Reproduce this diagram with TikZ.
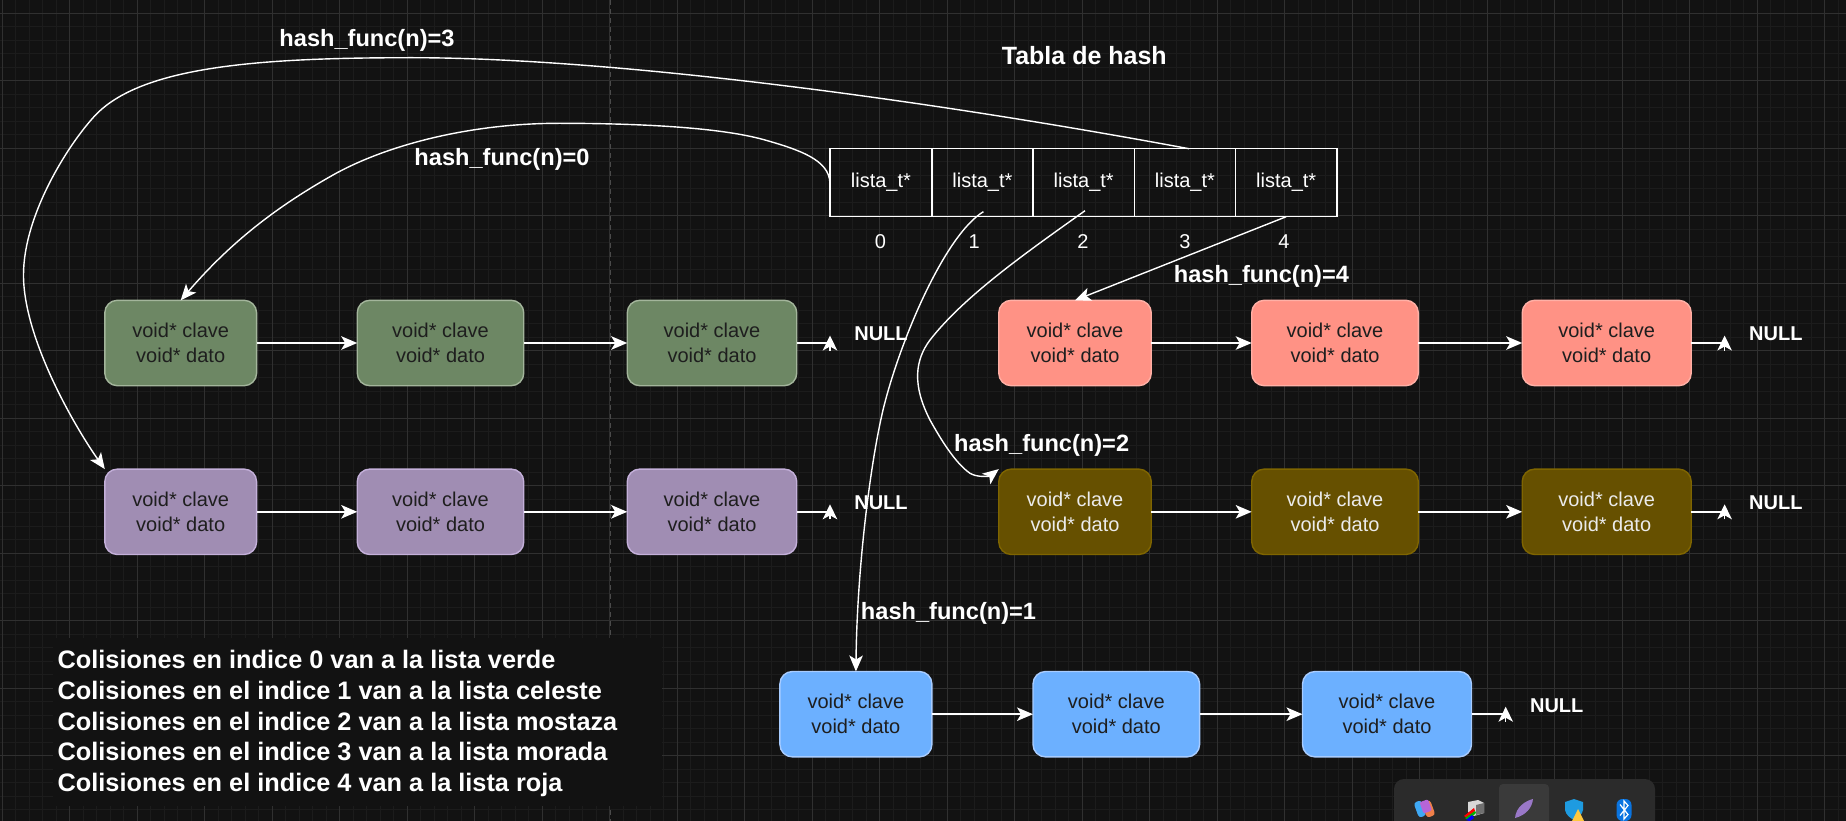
\documentclass[tikz,border=0pt]{standalone}
\usepackage{fontspec}
\setmainfont{Liberation Sans}
\usetikzlibrary{arrows.meta,calc}
\definecolor{bgc}{HTML}{121212}
\definecolor{gridmaj}{HTML}{303030}
\definecolor{gridmin}{HTML}{1C1C1C}
\definecolor{dashc}{HTML}{4A4A4A}
\definecolor{darktxt}{HTML}{1E1E1E}
\definecolor{gFill}{HTML}{6D8764}\definecolor{gLine}{HTML}{A3B59B}
\definecolor{pFill}{HTML}{A08DB3}\definecolor{pLine}{HTML}{C4B0DA}
\definecolor{rFill}{HTML}{FF9285}\definecolor{rLine}{HTML}{FFB0A6}
\definecolor{mFill}{HTML}{665000}\definecolor{mLine}{HTML}{7F6500}
\definecolor{bFill}{HTML}{6CB0FF}\definecolor{bLine}{HTML}{A8CCFF}
\definecolor{mTxt}{HTML}{EBEBEB}
\definecolor{barc}{HTML}{2B2B2B}\definecolor{barh}{HTML}{3A3A3A}
\definecolor{icA}{HTML}{3FA9F5}\definecolor{icB}{HTML}{F0804A}\definecolor{icC}{HTML}{B565D8}
\definecolor{icD}{HTML}{D8D8D8}\definecolor{icE}{HTML}{707070}\definecolor{icF}{HTML}{9A78C8}
\definecolor{icG}{HTML}{1E9BE0}\definecolor{icH}{HTML}{FFC83D}\definecolor{icI}{HTML}{0A74E0}
\tikzset{
  every node/.style={inner sep=0pt,outer sep=0pt},
  tip/.tip={Stealth[length=16pt,width=13.5pt,inset=4pt]},
  uptip/.tip={Stealth[length=15pt,width=14.5pt,inset=4pt]},
  conn/.style={draw=white,line width=1.6pt,-tip},
  curve/.style={draw=white,line width=1.4pt,-tip},
  plainline/.style={draw=white,line width=1.6pt},
  listbox/.style n args={3}{draw=#2,fill=#1,text=#3,line width=1.4pt,rounded corners=12.5pt,
     minimum height=85.4pt,align=center,font=\fontsize{20}{25}\selectfont},
  cellbox/.style={draw=white,line width=1.4pt,minimum height=68pt,text=white,font=\fontsize{20}{24}\selectfont},
  idx/.style={text=white,font=\fontsize{20}{24}\selectfont},
  lbl/.style={text=white,font=\fontsize{23.6}{28}\selectfont\bfseries},
  nulltxt/.style={text=white,font=\fontsize{20}{24}\selectfont\bfseries},
  notes/.style={text=white,align=left,anchor=north west,font=\fontsize{25.3}{30.7}\selectfont\bfseries},
}
\newcommand{\vd}{\raisebox{-1pt}{void* clave}\\\raisebox{-1pt}{void* dato}}
\newcommand{\lt}{\raisebox{-2pt}{lista\_t*}}
\newcommand{\listrow}[9]{%
 \def\rp{#1}\def\rf{#2}\def\rl{#3}\def\rt{#4}\def\ry{#5}%
 \node[listbox={\rf}{\rl}{\rt},minimum width=#7pt] (\rp1) at (#6,\ry) {\vd};
 \node[listbox={\rf}{\rl}{\rt},minimum width=#9pt] (\rp2) at (#8,\ry) {\vd};
 \listrowend}
\newcommand{\listrowend}[3]{%
 \node[listbox={\rf}{\rl}{\rt},minimum width=#2pt] (\rp3) at (#1,\ry) {\vd};
 \draw[conn] (\rp1) -- (\rp2);
 \draw[conn] (\rp2) -- (\rp3);
 \coordinate (\rp c) at (#3,\ry);
 \draw[plainline] (\rp3.east) -- (\rp c);
 \draw[draw=white,line width=1.4pt,-uptip] ($(\rp c)+(0,7.5)$) -- ($(\rp c)+(0,-7.5)$);
}
\begin{document}
\begin{tikzpicture}[x=1pt,y=-1pt]
\fill[bgc] (0,0) rectangle (1846,821);
\useasboundingbox (0,0) rectangle (1846,821);
\clip (0,0) rectangle (1846,821);
% grid
\foreach \k in {0,...,137}{\draw[gridmin,line width=.8pt] ({2+13.5*\k},0) -- ({2+13.5*\k},821);}
\foreach \k in {0,...,61}{\draw[gridmin,line width=.8pt] (0,{13.3+13.5*\k}) -- (1846,{13.3+13.5*\k});}
\foreach \k in {0,...,27}{\draw[gridmaj,line width=.9pt] ({2+67.5*\k},0) -- ({2+67.5*\k},821);}
\foreach \k in {0,...,12}{\draw[gridmaj,line width=.9pt] (0,{13.3+67.5*\k}) -- (1846,{13.3+67.5*\k});}
\draw[dashc,line width=.9pt,dash pattern=on 5pt off 4pt] (610.4,0) -- (610.4,821);
\fill[bgc] (53,638) rectangle (662,806);
% table
\node[cellbox,minimum width=102pt] (t0) at (880.9,182.7) {\lt};
\node[cellbox,minimum width=101.3pt] (t1) at (982.4,182.7) {\lt};
\node[cellbox,minimum width=101.3pt] (t2) at (1083.7,182.7) {\lt};
\node[cellbox,minimum width=101.3pt] (t3) at (1184.9,182.7) {\lt};
\node[cellbox,minimum width=101.3pt] (t4) at (1286.2,182.7) {\lt};
\node[idx] (i0) at (880.5,241.7) {0};
\node[idx] (i1) at (974.2,241.7) {1};
\node[idx] (i2) at (1083,241.7) {2};
\node[idx] (i3) at (1185,241.7) {3};
\node[idx] (i4) at (1283.8,241.7) {4};
% lists
\listrow{g}{gFill}{gLine}{darktxt}{343}{180.7}{151.8}{440.5}{166.5}{712}{169.5}{830}
\listrow{p}{pFill}{pLine}{darktxt}{511.8}{180.7}{151.8}{440.5}{166.5}{712}{169.5}{830}
\listrow{r}{rFill}{rLine}{darktxt}{343}{1075}{152.5}{1335}{166.6}{1606.7}{169}{1724.6}
\listrow{m}{mFill}{mLine}{mTxt}{511.8}{1075}{152.5}{1335}{166.6}{1606.7}{169}{1724.6}
\listrow{b}{bFill}{bLine}{darktxt}{714.2}{855.9}{152}{1116.3}{166.6}{1387}{169}{1505.7}
% curves from the table
\draw[curve] ([xshift=4pt]t3.north) .. controls (900,95) and (600,57.7) .. (412,57.7)
  .. controls (260,57.7) and (140,66) .. (94,116.7)
  .. controls (68,145) and (23.5,215) .. (23.5,275)
  .. controls (23.5,340) and (77,430) .. (p1.north west);
\draw[curve] (t0.west) .. controls (829,160) and (800,150) .. (765,140)
  .. controls (715,125.7) and (620,123.3) .. (559,123.3)
  .. controls (470,123.3) and (385,145) .. (330,176.7)
  .. controls (275,208) and (230,243) .. (g1.north);
\draw[curve] ([xshift=1pt,yshift=5pt]t1.south) .. controls (945,235) and (900,340) .. (883,410)
  .. controls (870,465) and (857,570) .. (b1.north);
\draw[curve] ([xshift=1.3pt,yshift=6pt]t2.south) .. controls (1030,250) and (965,295) .. (930,340)
  .. controls (915,360) and (912,385) .. (930,420)
  .. controls (940,438) and (955,463) .. (970,473.3)
  .. controls (978,478) and (990,476) .. (m1.north west);
\draw[conn,line width=1.4pt] (t4.south) -- (r1.north);
% labels
\node[lbl] (lb3) at (367,40) {hash\_func(n)=3};
\node[lbl] (lb0) at (502,159.3) {hash\_func(n)=0};
\node[lbl] (lb4) at (1261.4,276.7) {hash\_func(n)=4};
\node[lbl] (lb2) at (1041.6,445) {hash\_func(n)=2};
\node[lbl] (lb1) at (948.5,613.7) {hash\_func(n)=1};
\node[text=white,font=\fontsize{25}{30}\selectfont\bfseries] (ttl) at (1084.3,56) {Tabla de hash};
\node[nulltxt] (ng) at (881,334) {NULL};
\node[nulltxt] (np) at (881,503) {NULL};
\node[nulltxt] (nr) at (1775.8,334) {NULL};
\node[nulltxt] (nm) at (1775.8,503) {NULL};
\node[nulltxt] (nb) at (1556.7,705.5) {NULL};
\node[notes] (nt) at (57.7,650.5) {Colisiones en indice 0 van a la lista verde\\Colisiones en el indice 1 van a la lista celeste\\Colisiones en el indice 2 van a la lista mostaza\\Colisiones en el indice 3 van a la lista morada\\Colisiones en el indice 4 van a la lista roja};
% taskbar overlay
\fill[barc,rounded corners=10pt] (1394,779) rectangle (1655,840);
\fill[barh,rounded corners=4pt] (1499,784) rectangle (1549,840);
% copilot icon
\fill[icA,rounded corners=3pt,rotate around={20:(1420,809)}] (1416,801) rectangle (1424,817);
\fill[icB,rounded corners=3pt,rotate around={20:(1428,809)}] (1424,801) rectangle (1433,817);
\fill[icC,rounded corners=2pt,rotate around={20:(1424,806)}] (1421,801) rectangle (1430,813);
% printer icon
\fill[icD] (1468,802) -- (1478,800) -- (1484,803) -- (1484,813) -- (1474,816) -- (1468,812) -- cycle;
\fill[icE] (1476,805) -- (1484,803) -- (1484,813) -- (1476,815) -- cycle;
\fill[red] (1464,816) -- (1474,808) -- (1475,811) -- (1467,818) -- cycle;
\fill[green!70!black] (1465,818) -- (1475,811) -- (1476,813) -- (1468,820) -- cycle;
\fill[blue] (1466,820) -- (1472,815) -- (1474,818) -- (1470,821) -- cycle;
% quill icon
\fill[icF] (1515,818) .. controls (1516,807) and (1525,801) .. (1533,799) .. controls (1532,808) and (1526,815) .. (1515,818) -- cycle;
% shield icon
\fill[icG] (1565,802) -- (1574,799) -- (1583,802) -- (1583,810) .. controls (1582,815) and (1578,818) .. (1574,820) .. controls (1570,818) and (1566,815) .. (1565,810) -- cycle;
\fill[icH] (1572,821) -- (1578,809) -- (1584,821) -- cycle;
% bluetooth icon
\fill[icI,rounded corners=6pt] (1616.5,799) rectangle (1631.5,821);
\draw[white,line width=1.2pt] (1620,804.5) -- (1628,814.5) -- (1624,819) -- (1624,801) -- (1628,805.5) -- (1620,815.5);
\end{tikzpicture}
\end{document}
